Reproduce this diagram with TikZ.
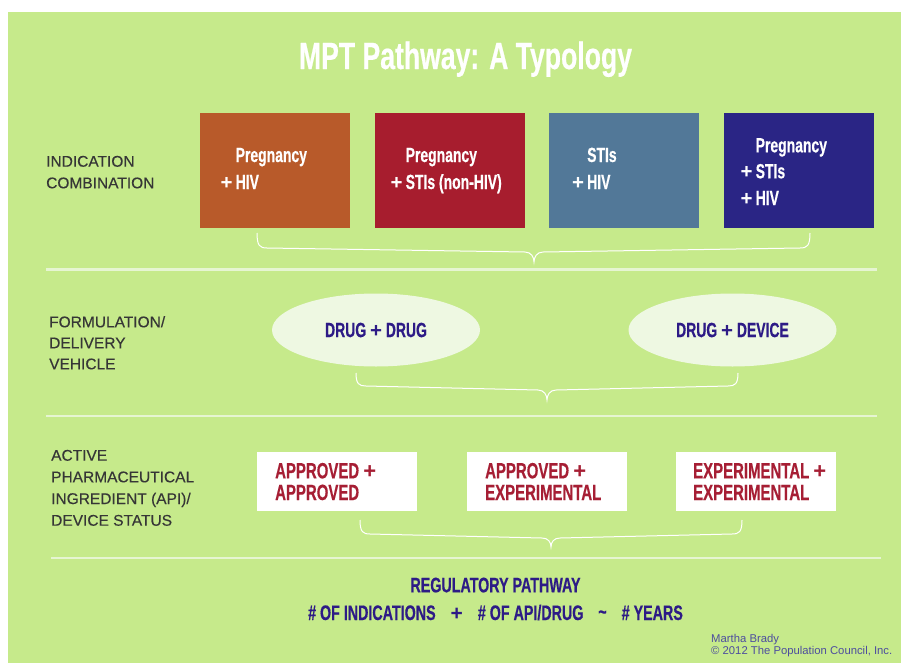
\documentclass[tikz,border=0pt]{standalone}
\usepackage{fontspec}
\setmainfont{Liberation Sans}
\newfontfamily\labfont[FakeBold=0.35]{Liberation Sans}
\newfontfamily\condfont[FakeStretch=0.68,FakeBold=0.4]{Liberation Sans Bold}
\newfontfamily\ttlfont[FakeStretch=0.70,FakeBold=0.5]{Liberation Sans Bold}
\newfontfamily\plusfont{Liberation Sans Bold}
\newcommand{\pl}{{\plusfont+}}
\newcommand{\tl}{\raisebox{1pt}{\textasciitilde}}
\usetikzlibrary{shapes.geometric}
\definecolor{bggreen}{HTML}{C6EA8B}
\definecolor{sepline}{HTML}{E6F5D2}
\definecolor{labgray}{HTML}{363636}
\definecolor{boxorange}{HTML}{B85A2A}
\definecolor{boxred}{HTML}{A71D2E}
\definecolor{boxsteel}{HTML}{527898}
\definecolor{boxnavy}{HTML}{2A2585}
\definecolor{ellfill}{HTML}{EEF8E2}
\definecolor{drugnavy}{HTML}{2D1B86}
\definecolor{apired}{HTML}{A61E34}
\definecolor{footblue}{HTML}{4D4D9E}
\newcommand{\drawbrace}[6]{%
  \draw[bracestyle] (#1,#3) .. controls (#1,#4-2) and (#1+3,#4) .. (#1+10,#4)
    -- (#5-9,#4+4) .. controls (#5-3,#4+4) and (#5,#6-5) .. (#5,#6)
    .. controls (#5,#6-5) and (#5+3,#4+4) .. (#5+9,#4+4)
    -- (#2-10,#4) .. controls (#2-3,#4) and (#2,#4-2) .. (#2,#3);}
\begin{document}
\begin{tikzpicture}[x=1pt,y=-1pt,
  lab/.style={anchor=base west, inner sep=0, text=labgray, font=\labfont\fontsize{15.5}{18}\selectfont},
  ind/.style={anchor=base west, inner sep=0, text=white, font=\condfont\fontsize{20.5}{24}\selectfont},
  indbox/.style={rectangle, draw=none, minimum width=150pt, minimum height=115pt, inner sep=0, anchor=north west},
  formell/.style={ellipse, fill=ellfill, draw=none, minimum width=208pt, minimum height=73pt, inner sep=0, text=drugnavy, font=\condfont\fontsize{20.5}{24}\selectfont},
  apibox/.style={rectangle, fill=white, draw=none, minimum width=160pt, minimum height=59pt, inner sep=0, anchor=north west},
  apitext/.style={anchor=base west, inner sep=0, text=apired, font=\condfont\fontsize{22}{26}\selectfont},
  sep/.style={draw=sepline, line width=2.2pt},
  bracestyle/.style={draw=white, line width=1pt},
  regtext/.style={anchor=base, inner sep=0, text=drugnavy, font=\condfont\fontsize{21}{25}\selectfont},
  foot/.style={anchor=base west, inner sep=0, text=footblue, font=\fontsize{11.3}{13}\selectfont}
]
\useasboundingbox (0,0) rectangle (902,664);
\fill[white] (0,0) rectangle (902,664);
\fill[bggreen] (8,12) rectangle (901,663);

% title
\node[anchor=base, inner sep=0, text=white, font=\ttlfont\fontsize{38}{44}\selectfont] (title) at (465.5,69) {MPT Pathway: A Typology};

% row 1 labels
\node[lab] (l1a) at (46,166.7) {INDICATION};
\node[lab] (l1b) at (46,188.3) {COMBINATION};

% row 1 boxes
\node[indbox, fill=boxorange] (box1) at (200,113) {};
\node[indbox, fill=boxred] (box2) at (375,113) {};
\node[indbox, fill=boxsteel] (box3) at (549,113) {};
\node[indbox, fill=boxnavy] (box4) at (724,113) {};

\node[ind] (t1a) at (235.5,162) {Pregnancy};
\node[ind] (t1b) at (235.5,189) {\llap{\pl\hspace{3pt}}HIV};
\node[ind] (t2a) at (405.5,162) {Pregnancy};
\node[ind] (t2b) at (405.5,189) {\llap{\pl\hspace{3pt}}STIs (non-HIV)};
\node[ind] (t3a) at (587,162) {STIs};
\node[ind] (t3b) at (587,189) {\llap{\pl\hspace{3pt}}HIV};
\node[ind] (t4a) at (755.5,152.3) {Pregnancy};
\node[ind] (t4b) at (755.5,178.3) {\llap{\pl\hspace{3pt}}STIs};
\node[ind] (t4c) at (755.5,205) {\llap{\pl\hspace{3pt}}HIV};

\drawbrace{257}{810}{233}{248}{534}{262}
\draw[sep] (46,269.5) -- (877,269.5);

% row 2
\node[lab] (l2a) at (49,327.3) {FORMULATION/};
\node[lab] (l2b) at (49,348.3) {DELIVERY};
\node[lab] (l2c) at (49,369.3) {VEHICLE};
\node[formell] (ell1) at (376,330) {DRUG \pl{} DRUG};
\node[formell] (ell2) at (732.5,330) {DRUG \pl{} DEVICE};

\drawbrace{356}{738}{373}{386}{547}{400}
\draw[sep] (46,415.7) -- (877,415.7);

% row 3
\node[lab] (l3a) at (51,460.7) {ACTIVE};
\node[lab] (l3b) at (51,482.3) {PHARMACEUTICAL};
\node[lab] (l3c) at (51,504) {INGREDIENT (API)/};
\node[lab] (l3d) at (51,525.7) {DEVICE STATUS};

\node[apibox] (api1) at (257,452) {};
\node[apibox] (api2) at (467,452) {};
\node[apibox] (api3) at (676,452) {};
\node[apitext] (a1a) at (275,478.3) {APPROVED \pl};
\node[apitext] (a1b) at (275,500) {APPROVED};
\node[apitext] (a2a) at (485,478.3) {APPROVED \pl};
\node[apitext] (a2b) at (485,500) {EXPERIMENTAL};
\node[apitext] (a3a) at (693,478.3) {EXPERIMENTAL \pl};
\node[apitext] (a3b) at (693,500) {EXPERIMENTAL};

\drawbrace{360}{742}{520}{534}{551}{547}
\draw[sep] (51,557.7) -- (881,557.7);

% regulatory pathway
\node[regtext] (reg) at (495.5,592.3) {REGULATORY PATHWAY};
\node[regtext] (formula) at (495.5,620) {\# OF INDICATIONS\hspace{15pt}\pl\hspace{15pt}\# OF API/DRUG\hspace{15pt}\tl\hspace{15pt}\# YEARS};

% footer
\node[foot] (f1) at (711,642.7) {Martha Brady};
\node[foot] (f2) at (711,654.2) {© 2012 The Population Council, Inc.};
\end{tikzpicture}
\end{document}
